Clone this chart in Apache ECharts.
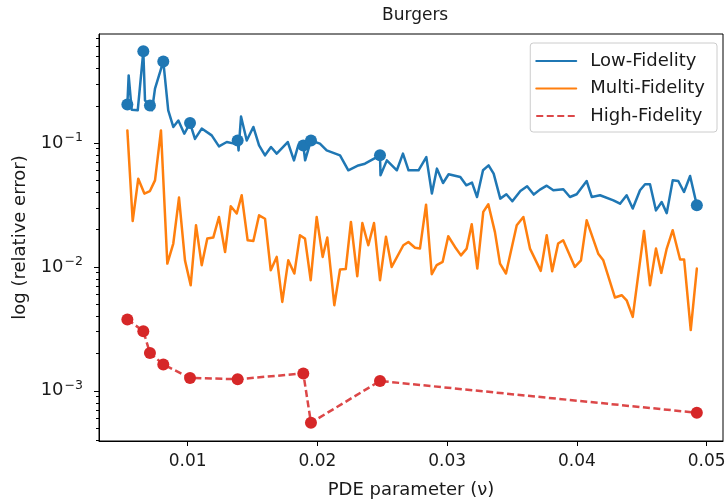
<!DOCTYPE html>
<html><head><meta charset="utf-8">
<script src="https://cdn.jsdelivr.net/npm/echarts@6/dist/echarts.min.js"></script>
<style>html,body{margin:0;padding:0;background:#fff}#c{width:725px;height:504px}</style>
</head><body><div id="c"></div>
<script>
// ---- data ----
const hfX = [0.00535,0.00658,0.00709,0.00812,0.01018,0.01385,0.01891,0.0195,0.02482,0.04924];
const hfY = [0.00377,0.00303,0.00202,0.00163,0.00127,0.00124,0.00138,0.000552,0.00120,0.000665];

const lfX = [0.00535,0.00545,0.00568,0.00615,0.00658,0.00671,0.00709,0.00725,0.00748,0.00812,0.0085,0.00889,0.00928,0.00974,0.01018,0.01056,0.01108,0.01185,0.01241,0.01301,0.01359,0.01385,0.01392,0.01411,0.01455,0.01506,0.0155,0.01596,0.01642,0.01686,0.01771,0.01819,0.01852,0.01891,0.01905,0.0195,0.02019,0.02071,0.02174,0.02238,0.02315,0.02366,0.02482,0.02486,0.02535,0.02612,0.02659,0.02702,0.02779,0.02839,0.02882,0.02921,0.02968,0.03011,0.03101,0.03147,0.03191,0.0323,0.03276,0.03319,0.03358,0.03409,0.03456,0.03502,0.03564,0.03616,0.03667,0.03715,0.03767,0.03818,0.03895,0.03946,0.03998,0.04075,0.04114,0.04178,0.04281,0.04332,0.04383,0.0443,0.04486,0.04525,0.04563,0.04609,0.04653,0.04692,0.04738,0.04781,0.04825,0.04872,0.04924];
const lfY = [0.205,0.352,0.186,0.184,0.552,0.221,0.201,0.184,0.275,0.456,0.184,0.135,0.152,0.119,0.145,0.108,0.131,0.1154,0.094,0.102,0.099,0.105,0.0873,0.164,0.105,0.135,0.0958,0.0796,0.0929,0.0822,0.102,0.0725,0.0958,0.0958,0.0725,0.105,0.0989,0.0873,0.0796,0.0603,0.066,0.0682,0.0796,0.055,0.0725,0.0603,0.0822,0.0603,0.0603,0.077,0.0391,0.0622,0.0476,0.056,0.0532,0.0456,0.048,0.0367,0.0603,0.066,0.0566,0.0356,0.0386,0.0339,0.041,0.0448,0.0384,0.0421,0.0453,0.0416,0.0424,0.0367,0.0386,0.0494,0.0367,0.0379,0.0345,0.0324,0.0379,0.0296,0.0416,0.0465,0.0465,0.0286,0.0334,0.0272,0.05,0.0494,0.0403,0.0542,0.0315];

const mfX = [0.00535,0.00576,0.00619,0.00666,0.00709,0.00748,0.00794,0.00843,0.00889,0.00933,0.00979,0.01023,0.01064,0.01108,0.01151,0.01197,0.01241,0.01288,0.01332,0.01378,0.01416,0.01462,0.01506,0.0155,0.01596,0.0164,0.01686,0.01729,0.01775,0.01822,0.01865,0.01904,0.01948,0.01994,0.0204,0.02076,0.0213,0.02174,0.02218,0.02258,0.02307,0.02346,0.02392,0.02436,0.02482,0.02528,0.02572,0.02662,0.02701,0.02752,0.0279,0.02837,0.02881,0.02919,0.02965,0.03008,0.0306,0.03106,0.0315,0.03189,0.03232,0.03278,0.03317,0.03368,0.03407,0.03453,0.03536,0.03587,0.03638,0.03721,0.03767,0.03809,0.03855,0.03894,0.03984,0.04031,0.04075,0.04164,0.04203,0.04293,0.04345,0.04383,0.0443,0.04517,0.04563,0.04609,0.0465,0.04692,0.04738,0.04795,0.04826,0.04877,0.04924];
const mfY = [0.1265,0.0235,0.0516,0.0391,0.041,0.05,0.1265,0.01064,0.01545,0.0363,0.0113,0.00711,0.0217,0.01033,0.01694,0.01726,0.0253,0.0132,0.0309,0.027,0.0379,0.0164,0.0162,0.0261,0.0245,0.0094,0.01205,0.00522,0.0113,0.00885,0.018,0.01694,0.00781,0.0253,0.01205,0.01726,0.00491,0.00953,0.0096,0.0231,0.00841,0.0226,0.01496,0.0226,0.00781,0.0175,0.01,0.01496,0.0159,0.0143,0.01406,0.0318,0.00873,0.01033,0.011,0.0177,0.0145,0.0124,0.01406,0.0221,0.0097,0.0278,0.0321,0.0191,0.01064,0.00885,0.0217,0.0253,0.01406,0.00929,0.018,0.00923,0.01545,0.0164,0.01,0.0113,0.0238,0.0128,0.0113,0.00566,0.00591,0.00538,0.00395,0.0195,0.00711,0.01406,0.00895,0.01406,0.0198,0.01148,0.01148,0.00309,0.0097];

const xTicks = [0.01,0.02,0.03,0.04,0.05];
const yTicks = [0.001,0.01,0.1];
const yMinorTicks = [0.0004,0.0005,0.0006,0.0007,0.0008,0.0009,0.002,0.003,0.004,0.005,0.006,0.007,0.008,0.009,0.02,0.03,0.04,0.05,0.06,0.07,0.08,0.09,0.2,0.3,0.4,0.5,0.6,0.7];
const seriesNames = ['Low-Fidelity','Multi-Fidelity','High-Fidelity'];

// ---- chart ----
const zip = (xs, ys) => xs.map((x, i) => [x, ys[i]]);
const lfAtHf = hfX.map(x => lfY[lfX.indexOf(x)]);
const FONT = 'DejaVu Sans';
const TXT = '#1a1a1a';
const BLUE = '#1f77b4', ORANGE = '#ff7f0e', RED = '#d62728';

const chart = echarts.init(document.getElementById('c'), null, {renderer: 'canvas'});
const yBase = {
  type: 'log', logBase: 10, min: 3.93e-4, max: 0.76, position: 'left',
  splitLine: {show: false}, minorTick: {show: false}, minorSplitLine: {show: false}
};
chart.setOption({
  animation: false,
  backgroundColor: '#fff',
  textStyle: {fontFamily: FONT, color: TXT},
  title: {
    text: 'Burgers', left: 377, top: 2,
    textStyle: {fontFamily: FONT, fontSize: 17, fontWeight: 'normal', color: TXT}
  },
  grid: {
    left: 99, right: 2, top: 34, bottom: 63,
    show: true, borderColor: '#000', borderWidth: 1,
    containLabel: false, outerBoundsMode: 'none'
  },
  legend: {
    data: seriesNames, orient: 'vertical', right: 8, top: 43,
    itemWidth: 40, itemHeight: 14, itemGap: 9.5,
    padding: [9, 12, 7, 5],
    itemStyle: {opacity: 0},
    backgroundColor: 'rgba(255,255,255,0.8)', borderColor: '#cccccc', borderWidth: 1, borderRadius: 3,
    textStyle: {fontFamily: FONT, fontSize: 18, color: TXT, padding: [0, 0, 0, 9]}
  },
  xAxis: {
    type: 'value', min: 0.003164, max: 0.051256,
    name: 'PDE parameter (ν)', nameLocation: 'middle', nameGap: 40,
    nameTextStyle: {fontFamily: FONT, fontSize: 18, color: TXT},
    axisLine: {show: true, lineStyle: {color: '#000', width: 1}},
    axisTick: {show: true, customValues: xTicks, length: 5, lineStyle: {color: '#000', width: 1}},
    axisLabel: {customValues: xTicks, margin: 12, fontFamily: FONT, fontSize: 17, color: TXT,
      formatter: v => v.toFixed(2)},
    splitLine: {show: false}
  },
  yAxis: [
    Object.assign({}, yBase, {
      name: 'log (relative error)', nameLocation: 'middle', nameGap: 70,
      nameTextStyle: {fontFamily: FONT, fontSize: 18, color: TXT},
      axisLine: {show: true, lineStyle: {color: '#000', width: 1}},
      axisTick: {show: true, customValues: yTicks, length: 5, lineStyle: {color: '#000', width: 1}},
      axisLabel: {
        customValues: yTicks, margin: 16,
        formatter: v => '{b|10}{s|−' + Math.abs(Math.round(Math.log10(v))) + '}',
        rich: {
          b: {fontFamily: FONT, fontSize: 18, color: TXT},
          s: {fontFamily: FONT, fontSize: 12.5, color: TXT, padding: [0, 0, 10, 1]}
        }
      }
    }),
    Object.assign({}, yBase, {
      axisLine: {show: false},
      axisTick: {show: true, customValues: yMinorTicks, length: 3, lineStyle: {color: '#000', width: 1}},
      axisLabel: {show: false}
    })
  ],
  series: [
    {
      name: seriesNames[0], type: 'line', data: zip(lfX, lfY), symbol: 'none', z: 2,
      lineStyle: {color: BLUE, width: 2.5, join: 'round', cap: 'round'}, itemStyle: {color: BLUE}
    },
    {
      name: 'lf-samples', type: 'scatter', data: zip(hfX, lfAtHf), symbolSize: 12, z: 3,
      itemStyle: {color: BLUE, opacity: 1}
    },
    {
      name: seriesNames[1], type: 'line', data: zip(mfX, mfY), symbol: 'none', z: 2,
      lineStyle: {color: ORANGE, width: 2.5, join: 'round', cap: 'round'}, itemStyle: {color: ORANGE}
    },
    {
      name: seriesNames[2], type: 'line', data: zip(hfX, hfY), symbol: 'none', z: 4,
      lineStyle: {color: RED, width: 2.5, type: [7, 3.5], opacity: 0.85}, itemStyle: {color: RED}
    },
    {
      name: 'hf-samples', type: 'scatter', data: zip(hfX, hfY), symbolSize: 12, z: 5,
      itemStyle: {color: RED, opacity: 1}
    }
  ]
});
</script>
</body></html>
